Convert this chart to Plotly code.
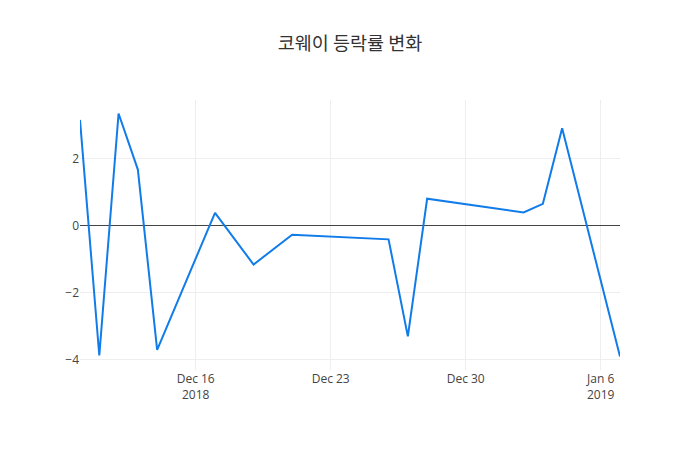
import plotly.graph_objects as go

dates = ['2018-12-10', '2018-12-11', '2018-12-12', '2018-12-13', '2018-12-14',
         '2018-12-17', '2018-12-19', '2018-12-21', '2018-12-26', '2018-12-27',
         '2018-12-28', '2019-01-02', '2019-01-03', '2019-01-04', '2019-01-07']
change = [3.15, -3.87, 3.34, 1.67, -3.70,
          0.38, -1.16, -0.27, -0.41, -3.30,
          0.80, 0.39, 0.65, 2.90, -3.90]

fig = go.Figure()
fig.add_trace(go.Scatter(x=dates, y=change, mode='lines',
                         line=dict(color='#117ce9', width=2)))

# page puts the figure 8px in from the corner, so margins are shifted to keep
# the plot area where it sits in the reference
fig.update_layout(
    title=dict(text='코웨이 등락률 변화', x=0.4886, xanchor='center',
               y=0.92, yanchor='middle',
               font=dict(size=18.5, color='#333', family='Noto Sans CJK KR')),
    width=700, height=450,
    margin=dict(l=72, r=88, t=92, b=88),
    paper_bgcolor='white', plot_bgcolor='white',
    font=dict(family='Open Sans', color='#444', size=12),
    showlegend=False,
)
fig.update_xaxes(showgrid=True, gridcolor='#eee', zeroline=False,
                 showline=False, ticks='')
fig.update_yaxes(showgrid=True, gridcolor='#eee', zeroline=True,
                 zerolinecolor='#444', zerolinewidth=1, showline=False,
                 ticks='', dtick=2)

fig.write_html("out.html")
